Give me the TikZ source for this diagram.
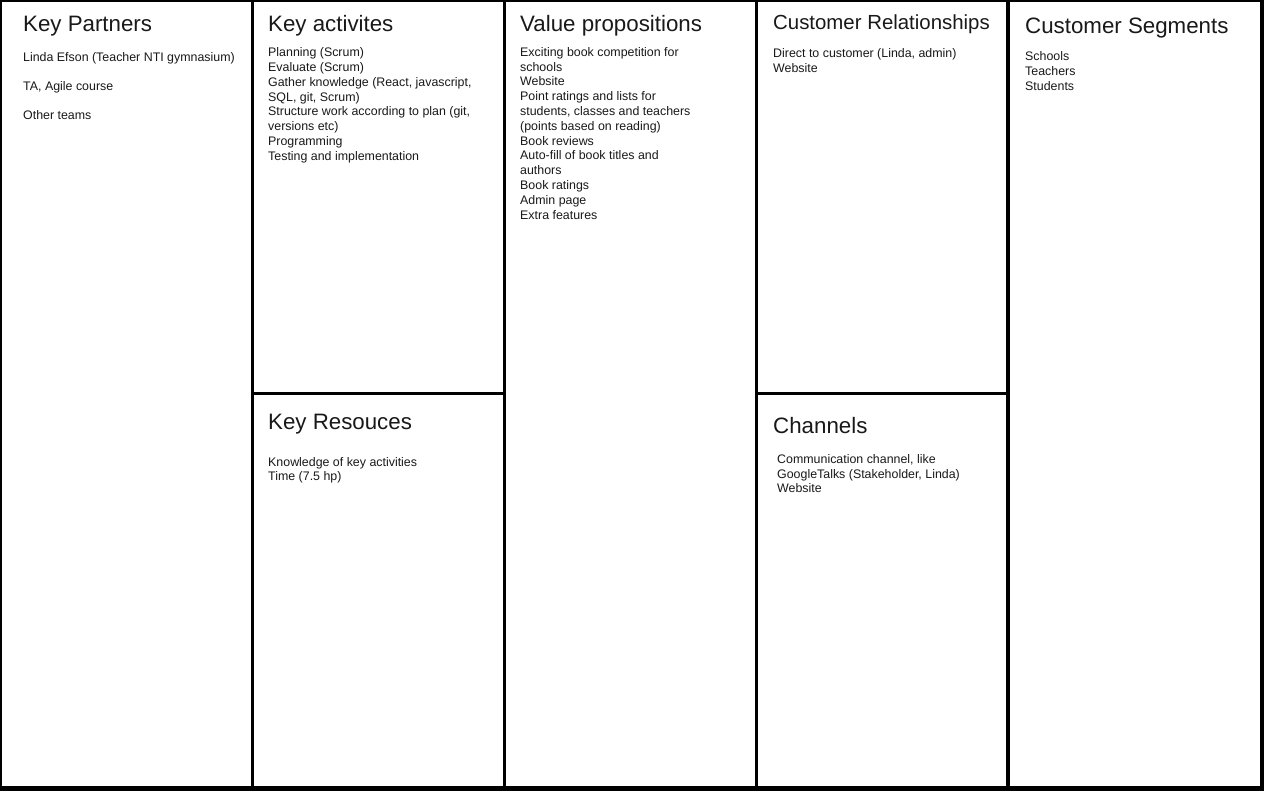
\documentclass[tikz,border=0pt]{standalone}
\usepackage{fontspec}
\setmainfont{Liberation Sans}
\begin{document}
\begin{tikzpicture}[x=1pt,y=-1pt,
  box/.style={fill=white},
  title/.style={anchor=base west,inner sep=0pt,text=black!90,font=\fontsize{22.3}{26}\selectfont},
  smalltitle/.style={anchor=base west,inner sep=0pt,text=black!90,font=\fontsize{20.4}{24}\selectfont},
  body/.style={anchor=base west,inner sep=0pt,align=left,text=black!90,font=\fontsize{12.4}{14.8}\selectfont}]
\fill[black] (0,0) rectangle (1264,791);
\useasboundingbox (0,0) rectangle (1264,791);
% boxes
\fill[box] (2,2) rectangle (251,786);
\fill[box] (254,2) rectangle (503,392);
\fill[box] (254,395) rectangle (503,786);
\fill[box] (506,2) rectangle (755,786);
\fill[box] (758,2) rectangle (1006,392);
\fill[box] (758,395) rectangle (1006,786);
\fill[box] (1010,2) rectangle (1260,786);
% Key Partners
\node[title] (kpT) at (23,32) {Key Partners};
\node[body] (kp1) at (23,62) {Linda Efson (Teacher NTI gymnasium)};
\node[body] (kp2) at (23,91) {TA, Agile course};
\node[body] (kp3) at (23,120) {Other teams};
% Key activities (anchor at last baseline)
\node[title] (kaT) at (268,32) {Key activites};
\node[body] (kaB) at (268,160.4) {Planning (Scrum)\\Evaluate (Scrum)\\Gather knowledge (React, javascript,\\SQL, git, Scrum)\\Structure work according to plan (git,\\versions etc)\\Programming\\Testing and implementation};
% Key resources
\node[title] (krT) at (268,430) {Key Resouces};
\node[body] (krB) at (268,480.8) {Knowledge of key activities\\Time (7.5 hp)};
% Value propositions
\node[title] (vpT) at (520,32) {Value propositions};
\node[body] (vpB) at (520,219.1) {Exciting book competition for\\schools\\Website\\Point ratings and lists for\\students, classes and teachers\\(points based on reading)\\Book reviews\\Auto-fill of book titles and\\authors\\Book ratings\\Admin page\\Extra features};
% Customer relationships
\node[smalltitle] (crT) at (773,30) {Customer Relationships};
\node[body] (crB) at (773,72.1) {Direct to customer (Linda, admin)\\Website};
% Channels
\node[title] (chT) at (773,434) {Channels};
\node[body] (chB) at (777,492.9) {Communication channel, like\\GoogleTalks (Stakeholder, Linda)\\Website};
% Customer segments
\node[title] (csT) at (1025,34) {Customer Segments};
\node[body] (csB) at (1025,90.6) {Schools\\Teachers\\Students};
\end{tikzpicture}
\end{document}
